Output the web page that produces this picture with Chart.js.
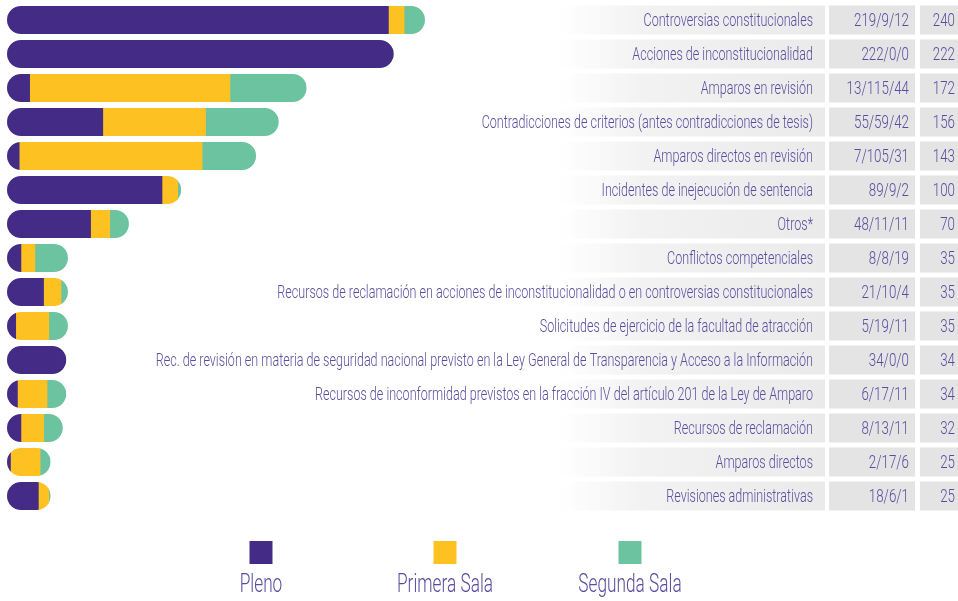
<!DOCTYPE html>
<html>
<head>
<meta charset="utf-8">
<script src="https://cdn.jsdelivr.net/npm/chart.js@4/dist/chart.umd.min.js"></script>
<style>
  html, body { margin: 0; padding: 0; background: #fff; }
  #wrap { width: 958px; height: 601px; position: relative; }
</style>
</head>
<body>
<div id="wrap"><canvas id="casosChart"></canvas></div>
<script>
const categories = [
    'Controversias constitucionales',
    'Acciones de inconstitucionalidad',
    'Amparos en revisión',
    'Contradicciones de criterios (antes contradicciones de tesis)',
    'Amparos directos en revisión',
    'Incidentes de inejecución de sentencia',
    'Otros*',
    'Conflictos competenciales',
    'Recursos de reclamación en acciones de inconstitucionalidad o en controversias constitucionales',
    'Solicitudes de ejercicio de la facultad de atracción',
    'Rec. de revisión en materia de seguridad nacional previsto en la Ley General de Transparencia y Acceso a la Información',
    'Recursos de inconformidad previstos en la fracción IV del artículo 201 de la Ley de Amparo',
    'Recursos de reclamación',
    'Amparos directos',
    'Revisiones administrativas'
];
const pleno   = [219, 222, 13, 55, 7, 89, 48, 8, 21, 5, 34, 6, 8, 2, 18];
const primera = [9, 0, 115, 59, 105, 9, 11, 8, 10, 19, 0, 17, 13, 17, 6];
const segunda = [12, 0, 44, 42, 31, 2, 11, 19, 4, 11, 0, 11, 11, 6, 1];
const totals  = [240, 222, 172, 156, 143, 100, 70, 35, 35, 35, 34, 34, 32, 25, 25];

const colors = { pleno: '#442c86', primera: '#fdc122', segunda: '#6cc39f' };
const textColor = '#5b4b9f';
const fontFamily = 'Roboto, "Liberation Sans Narrow", sans-serif';

// draw text squeezed horizontally to imitate the condensed face of the original
function drawText(ctx, text, x, y, align, k) {
    ctx.save();
    ctx.translate(x, y);
    ctx.scale(k, 1);
    ctx.textAlign = align;
    ctx.fillText(text, 0, 0);
    ctx.restore();
}

// clip the stacked segments of every row into one pill shape
const pillClip = {
    id: 'pillClip',
    beforeDatasetsDraw(chart) {
        const { ctx, scales: { x, y } } = chart;
        ctx.save();
        ctx.beginPath();
        categories.forEach((c, i) => {
            const yc = y.getPixelForValue(i);
            const x0 = x.getPixelForValue(0);
            const x1 = x.getPixelForValue(totals[i]);
            ctx.roundRect(x0, yc - 14, x1 - x0, 28, 14);
        });
        ctx.clip();
    },
    afterDatasetsDraw(chart) {
        chart.ctx.restore();
    }
};

// table on the right + legend below
const sideTable = {
    id: 'sideTable',
    beforeDraw(chart) {
        const { ctx, scales: { y } } = chart;
        ctx.save();
        categories.forEach((c, i) => {
            const yc = y.getPixelForValue(i);
            const top = yc - 14.5;
            const g = ctx.createLinearGradient(560, 0, 825, 0);
            g.addColorStop(0, 'rgba(234,234,234,0)');
            g.addColorStop(0.3, 'rgba(234,234,234,0.6)');
            g.addColorStop(1, 'rgba(234,234,234,1)');
            ctx.fillStyle = g;
            ctx.fillRect(560, top, 265, 29);
            ctx.fillStyle = '#e4e4e4';
            ctx.fillRect(829, top, 86, 29);
            ctx.fillRect(920, top, 38, 29);
        });
        ctx.restore();
    },
    afterDraw(chart) {
        const { ctx, scales: { y } } = chart;
        ctx.save();
        ctx.font = '300 18.5px ' + fontFamily;
        ctx.fillStyle = textColor;
        ctx.textBaseline = 'middle';
        const kShort = 168 / ctx.measureText(categories[0]).width;
        const kLong = 663 / ctx.measureText(categories[10]).width;
        const k = (kShort + kLong) / 2;
        const kn = 55 / ctx.measureText('219/9/12').width;
        categories.forEach((c, i) => {
            const yc = y.getPixelForValue(i) + 1.5;
            drawText(ctx, c, 813, yc, 'right', k);
            drawText(ctx, pleno[i] + '/' + primera[i] + '/' + segunda[i], 909, yc, 'right', kn);
            drawText(ctx, String(totals[i]), 955, yc, 'right', kn);
        });

        // legend
        ctx.font = '300 25px ' + fontFamily;
        ctx.textBaseline = 'alphabetic';
        const k2 = 96 / ctx.measureText('Primera Sala').width;
        const centers = [261, 445, 630];
        chart.data.datasets.forEach((ds, i) => {
            const cx = centers[i];
            ctx.fillStyle = ds.backgroundColor;
            ctx.fillRect(cx - 11.5, 541, 23, 23);
            ctx.fillStyle = textColor;
            drawText(ctx, ds.label, cx, 592, 'center', k2);
        });
        ctx.restore();
    }
};

new Chart(document.getElementById('casosChart'), {
    type: 'bar',
    data: {
        labels: categories,
        datasets: [
            { label: 'Pleno', data: pleno, backgroundColor: colors.pleno },
            { label: 'Primera Sala', data: primera, backgroundColor: colors.primera },
            { label: 'Segunda Sala', data: segunda, backgroundColor: colors.segunda }
        ]
    },
    options: {
        indexAxis: 'y',
        responsive: true,
        maintainAspectRatio: false,
        animation: false,
        datasets: {
            bar: { barThickness: 28, borderWidth: 0, borderSkipped: false }
        },
        layout: {
            padding: { top: 3, bottom: 88, left: 7, right: 428.5 }
        },
        scales: {
            x: { stacked: true, min: 0, max: 300, display: false },
            y: { stacked: true, display: false, offset: true }
        },
        plugins: {
            legend: { display: false },
            tooltip: { enabled: false }
        }
    },
    plugins: [pillClip, sideTable]
});
</script>
</body>
</html>
